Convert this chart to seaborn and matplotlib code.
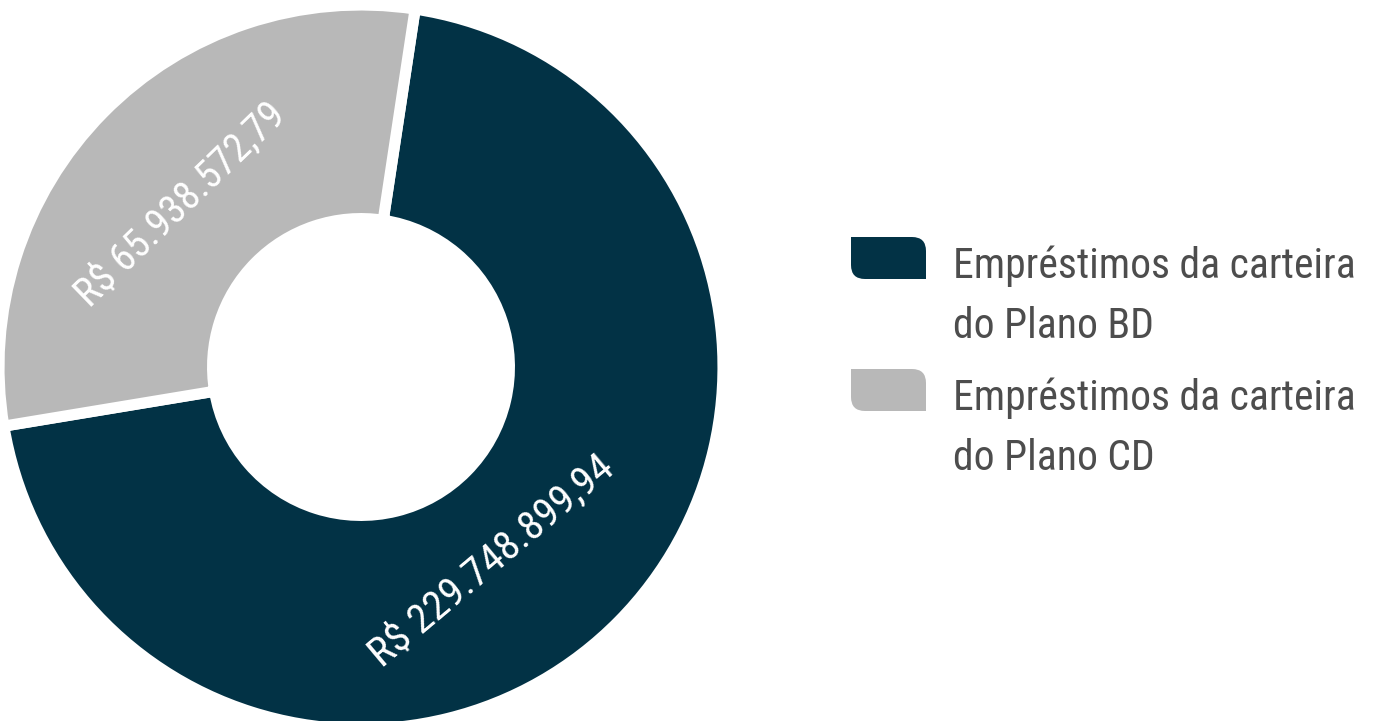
import numpy as np
import matplotlib
matplotlib.use("Agg")
import matplotlib.pyplot as plt
import seaborn as sns
from matplotlib.path import Path
from matplotlib.patches import PathPatch

# Data
categories = ["Empréstimos da carteira\ndo Plano BD", "Empréstimos da carteira\ndo Plano CD"]
amounts = [229748899.94, 65938572.79]
value_labels = ["R$ 229.748.899,94", "R$ 65.938.572,79"]
# slice shares as drawn in the picture (%)
shares = [70.0, 30.0]

colors = ["#023245", "#b8b8b8"]
text_gray = "#4d4d4d"
font = ["Roboto Condensed", "Liberation Sans Narrow", "Roboto", "DejaVu Sans"]

sns.set_theme(style="white")
plt.rcParams["font.family"] = font

W, H = 1384, 721
fig = plt.figure(figsize=(W / 100, H / 100), dpi=100)
renderer = fig.canvas.get_renderer()


def fit_width(txt, target_px):
    # scale the font so the text runs as wide as in the reference
    rot = txt.get_rotation()
    txt.set_rotation(0)
    w = txt.get_window_extent(renderer).width
    txt.set_fontsize(txt.get_fontsize() * target_px / w)
    txt.set_rotation(rot)
    return txt


# donut axes placed in pixels: centre (361, 367), radius 362 px
cx, cy, R = 361, 367, 362
ax = fig.add_axes([(cx - R) / W, (H - cy - R) / H, 2 * R / W, 2 * R / H])
wedges, _ = ax.pie(shares, colors=colors, startangle=189.4, counterclock=True,
                   wedgeprops=dict(width=0.59, edgecolor="white", linewidth=8))
ax.set_xlim(-1, 1)
ax.set_ylim(-1, 1)
ax.set_aspect("equal")
ax.axis("off")

# value labels inside the ring
label_angle_offset = [-11.5, 2.5]
label_radius = [0.645, 0.672]
label_rotation = [40, 44]
label_width = [305, 275]
for w, lab, off, r, rot, tw in zip(wedges, value_labels, label_angle_offset,
                                   label_radius, label_rotation, label_width):
    ang = np.deg2rad((w.theta1 + w.theta2) / 2 + off)
    t = ax.text(r * np.cos(ang), r * np.sin(ang), lab, color="white", fontsize=30,
                rotation=rot, ha="center", va="center", rotation_mode="anchor")
    fit_width(t, tw)


def leaf(x0, y0, w, h, r):
    # rectangle with rounded top-right and bottom-left corners (pixel units)
    rx, ry = r / W, r / H
    x0, y0, w, h = x0 / W, y0 / H, w / W, h / H
    x1, y1 = x0 + w, y0 + h
    verts = [(x0, y1), (x1 - rx, y1), (x1, y1), (x1, y1 - ry),
             (x1, y0), (x0 + rx, y0), (x0, y0), (x0, y0 + ry), (x0, y1)]
    codes = [Path.MOVETO, Path.LINETO, Path.CURVE3, Path.CURVE3,
             Path.LINETO, Path.LINETO, Path.CURVE3, Path.CURVE3, Path.CLOSEPOLY]
    return Path(verts, codes)


# legend
entry_top = [237, 369]
line_pitch = 60
legend_size = None
for cat, col, top in zip(categories, colors, entry_top):
    fig.patches.append(PathPatch(leaf(851, H - top - 42, 75, 42, 14), facecolor=col,
                                 edgecolor="none", transform=fig.transFigure))
    for i, line in enumerate(cat.split("\n")):
        t = fig.text(953 / W, (H - (top + 41 + i * line_pitch)) / H, line, color=text_gray,
                     fontsize=30, ha="left", va="baseline")
        if legend_size is None:
            legend_size = fit_width(t, 402).get_fontsize()
        t.set_fontsize(legend_size)

fig.savefig("out.png", dpi=100, facecolor="white")
